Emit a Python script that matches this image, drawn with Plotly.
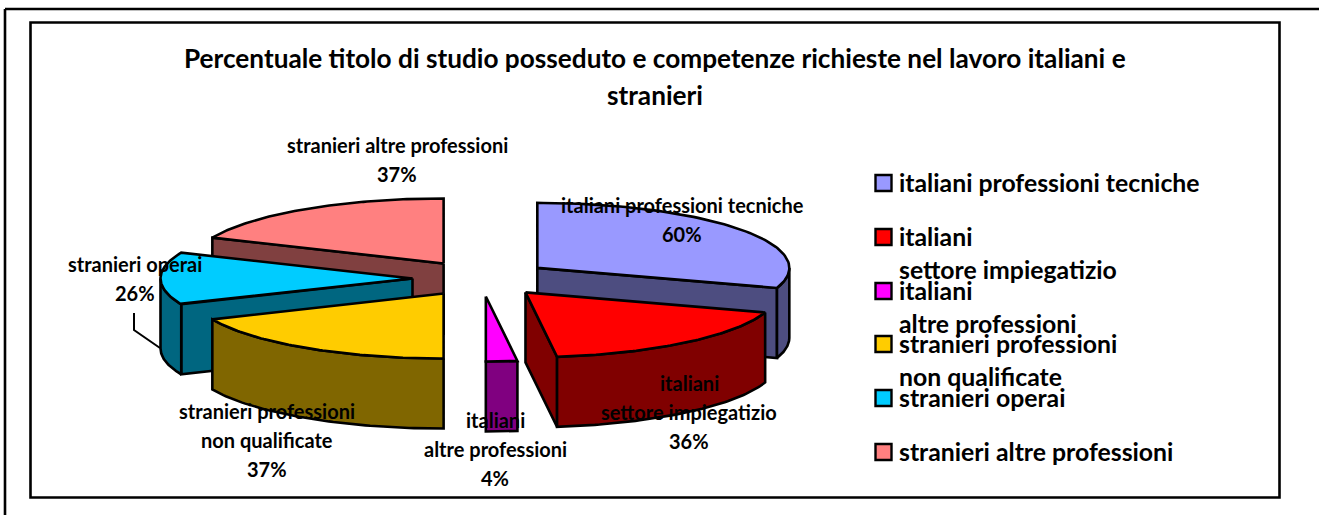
import numpy as np
import plotly.graph_objects as go

TITLE_LINES = ["Percentuale titolo di studio posseduto e competenze richieste nel lavoro italiani e", "stranieri"]
CATEGORIES = ["italiani professioni tecniche", "italiani<br>settore impiegatizio", "italiani<br>altre professioni",
              "stranieri professioni<br>non qualificate", "stranieri operai", "stranieri altre professioni"]
VALUES = [60, 36, 4, 37, 26, 37]
TOP_COLORS = ["#9999FF", "#FF0000", "#FF00FF", "#FFCC00", "#00CCFF", "#FF8080"]
SIDE_COLORS = ["#4D4D80", "#800000", "#800080", "#806600", "#006680", "#804040"]
DRAW_ORDER = [5, 4, 3, 0, 1, 2]

W, H = 1319, 515
CX, CY, RX, RY, DEPTH, PULL_X, PULL_Y = 481.5, 278.5, 252, 65, 70, 69, 18
FONT = "Lato, Carlito, Calibri, sans-serif"
EDGE = dict(color="black", width=2.6)

total = sum(VALUES)
edges = np.concatenate([[0], np.cumsum(VALUES) / total * 360])


def pt(ax, ay, deg):
    r = np.radians(deg)
    return ax + RX * np.sin(r), ay - RY * np.cos(r)


def poly(xs, ys, color):
    return go.Scatter(x=list(xs), y=list(ys), mode="lines", fill="toself", fillcolor=color,
                      line=EDGE, hoverinfo="skip", showlegend=False)


traces = []
for i in DRAW_ORDER:
    a0, a1 = edges[i], edges[i + 1]
    mid = np.radians((a0 + a1) / 2)
    ax, ay = CX + PULL_X * np.sin(mid), CY - PULL_Y * np.cos(mid)
    # radial walls that face the viewer
    if a1 < 180:
        ex, ey = pt(ax, ay, a1)
        traces.append(poly([ax, ex, ex, ax, ax], [ay, ey, ey + DEPTH, ay + DEPTH, ay], SIDE_COLORS[i]))
    if a0 > 180:
        ex, ey = pt(ax, ay, a0)
        traces.append(poly([ax, ex, ex, ax, ax], [ay, ey, ey + DEPTH, ay + DEPTH, ay], SIDE_COLORS[i]))
    # outer rim on the front half
    lo, hi = max(a0, 90), min(a1, 270)
    if hi > lo:
        t = np.linspace(lo, hi, 60)
        rx, ry = pt(ax, ay, t)
        traces.append(poly(np.r_[rx, rx[::-1], rx[0]], np.r_[ry, ry[::-1] + DEPTH, ry[0]], SIDE_COLORS[i]))
    # top face
    t = np.linspace(a0, a1, 80)
    tx, ty = pt(ax, ay, t)
    traces.append(poly(np.r_[ax, tx, ax], np.r_[ay, ty, ay], TOP_COLORS[i]))

# data labels
label_pos = [(682, 205), (689, 383), (495, 420), (267, 411), (135, 264), (397, 145)]
annotations = []
for i, (lx, ly) in enumerate(label_pos):
    lines = CATEGORIES[i].split("<br>") + [f"{VALUES[i]}%"]
    for k, line in enumerate(lines):
        annotations.append(dict(x=lx, y=ly + k * 29, text=f"<b>{line}</b>", showarrow=False,
                                xanchor="center", yanchor="middle",
                                font=dict(family=FONT, size=20, color="black")))

# title
for line, ty in zip(TITLE_LINES, [58, 95]):
    annotations.append(dict(x=655, y=ty, text=f"<b>{line}</b>", showarrow=False, xanchor="center", yanchor="middle",
                            font=dict(family=FONT, size=26.2, color="black")))

# legend
legend_y = [183, 237, 291, 344, 398, 452]
LEG_X, LEG_TXT, LEG_LH = 883.5, 897, 33
traces.append(go.Scatter(x=[LEG_X] * 6, y=legend_y, mode="markers",
                         marker=dict(symbol="square", size=16, color=TOP_COLORS, line=dict(color="black", width=2.4)),
                         hoverinfo="skip", showlegend=False))
for i, ly in enumerate(legend_y):
    for k, line in enumerate(CATEGORIES[i].split("<br>")):
        annotations.append(dict(x=LEG_TXT, y=ly - 1 + k * LEG_LH, text=f"<b>{line}</b>", showarrow=False,
                                xanchor="left", yanchor="middle",
                                font=dict(family=FONT, size=24.8, color="black")))

frame = dict(color="black", width=2.6)
shapes = [
    dict(type="line", x0=5, y0=9, x1=W, y1=9, line=frame),
    dict(type="line", x0=5, y0=9, x1=5, y1=H, line=frame),
    dict(type="rect", x0=30.5, y0=22.5, x1=1279.5, y1=497.5, line=frame),
    dict(type="path", path="M 134 313 L 134 330 L 160 348", line=dict(color="black", width=2)),
]

fig = go.Figure(traces)
fig.update_layout(
    width=W, height=H, margin=dict(l=0, r=0, t=0, b=0), autosize=False,
    paper_bgcolor="white", plot_bgcolor="white", showlegend=False,
    xaxis=dict(range=[0, W], visible=False, fixedrange=True),
    yaxis=dict(range=[H, 0], visible=False, fixedrange=True),
    annotations=annotations, shapes=shapes,
)
fig.write_html("out.html", config={"displayModeBar": False},
               post_script="document.body.style.margin='0';document.body.style.overflow='hidden';")
